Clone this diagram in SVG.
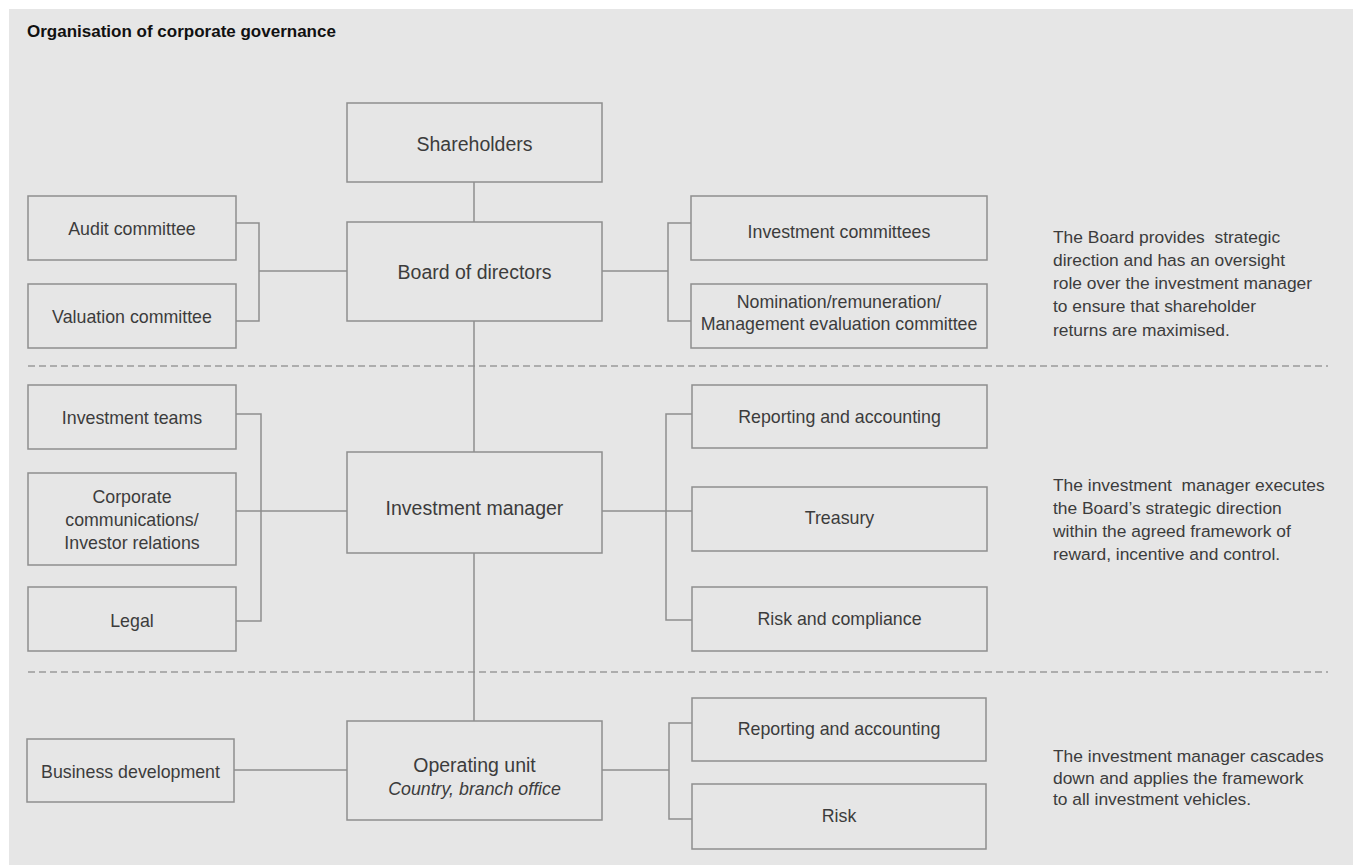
<svg xmlns="http://www.w3.org/2000/svg" width="1353" height="865" viewBox="0 0 1353 865">
<style>
.bg{fill:#e6e6e6}
.box{fill:#e6e6e6;stroke:#8e8e8e;stroke-width:1.5}
.ln{fill:none;stroke:#8e8e8e;stroke-width:1.5}
.dash{fill:none;stroke:#9a9a9a;stroke-width:1.5;stroke-dasharray:7 4}
text{font-family:"Liberation Sans",Arial,sans-serif;fill:#3c3c3c}
.t{font-size:17.8px;text-anchor:middle}
.m{font-size:19.5px;text-anchor:middle}
.p{font-size:17.4px;white-space:pre}
.title{font-size:17px;font-weight:bold;fill:#111}
</style>
<rect class="bg" x="9" y="9" width="1344" height="856"/>
<text class="title" x="27" y="37">Organisation of corporate governance</text>

<line class="dash" x1="28" y1="366" x2="1328" y2="366"/>
<line class="dash" x1="28" y1="672" x2="1328" y2="672"/>

<g id="connectors">
<path class="ln" d="M474,182V222"/>
<path class="ln" d="M474,321V452"/>
<path class="ln" d="M474,553V721"/>
<path class="ln" d="M236,223H259V321H236M259,271H347"/>
<path class="ln" d="M602,271H668M691,223H668V321H691"/>
<path class="ln" d="M236,414H261V621H236M236,511H347"/>
<path class="ln" d="M602,511H692M692,414H666V620H692"/>
<path class="ln" d="M234,770H347"/>
<path class="ln" d="M602,770H669M692,723H669V819H692"/>
</g>

<g id="shareholders"><rect class="box" x="347" y="103" width="255" height="79"/><text class="m" x="474.5" y="151">Shareholders</text></g>
<g id="board"><rect class="box" x="347" y="222" width="255" height="99"/><text class="m" x="474.5" y="279">Board of directors</text></g>
<g id="audit"><rect class="box" x="28" y="196" width="208" height="64"/><text class="t" x="132" y="235">Audit committee</text></g>
<g id="valuation"><rect class="box" x="28" y="284" width="208" height="64"/><text class="t" x="132" y="323">Valuation committee</text></g>
<g id="invcommittees"><rect class="box" x="691" y="196" width="296" height="64"/><text class="t" x="839" y="238">Investment committees</text></g>
<g id="nomination"><rect class="box" x="691" y="284" width="296" height="64"/><text class="t" x="839" y="308">Nomination/remuneration/</text><text class="t" x="839" y="330">Management evaluation committee</text></g>

<g id="invteams"><rect class="box" x="28" y="385" width="208" height="64"/><text class="t" x="132" y="424">Investment teams</text></g>
<g id="corpcomm"><rect class="box" x="28" y="473" width="208" height="92"/><text class="t" x="132" y="503">Corporate</text><text class="t" x="132" y="526">communications/</text><text class="t" x="132" y="549">Investor relations</text></g>
<g id="legal"><rect class="box" x="28" y="587" width="208" height="64"/><text class="t" x="132" y="627">Legal</text></g>
<g id="invmanager"><rect class="box" x="347" y="452" width="255" height="101"/><text class="m" x="474.5" y="515">Investment manager</text></g>
<g id="reporting1"><rect class="box" x="692" y="385" width="295" height="63"/><text class="t" x="839.5" y="423">Reporting and accounting</text></g>
<g id="treasury"><rect class="box" x="692" y="487" width="295" height="64"/><text class="t" x="839.5" y="524">Treasury</text></g>
<g id="riskcompliance"><rect class="box" x="692" y="587" width="295" height="64"/><text class="t" x="839.5" y="625">Risk and compliance</text></g>

<g id="busdev"><rect class="box" x="27" y="739" width="207" height="63"/><text class="t" x="130.5" y="778">Business development</text></g>
<g id="opunit"><rect class="box" x="347" y="721" width="255" height="99"/><text class="m" x="474.5" y="772">Operating unit</text><text class="t" x="474.5" y="795" font-style="italic">Country, branch office</text></g>
<g id="reporting2"><rect class="box" x="692" y="698" width="294" height="63"/><text class="t" x="839" y="735">Reporting and accounting</text></g>
<g id="risk"><rect class="box" x="692" y="784" width="294" height="65"/><text class="t" x="839" y="822">Risk</text></g>

<g id="note-board">
<text class="p" x="1053" y="242.5">The Board provides  strategic</text>
<text class="p" x="1053" y="265.8">direction and has an oversight</text>
<text class="p" x="1053" y="289.1">role over the investment manager</text>
<text class="p" x="1053" y="312.4">to ensure that shareholder</text>
<text class="p" x="1053" y="335.7">returns are maximised.</text>
</g>
<g id="note-manager">
<text class="p" x="1053" y="490.5">The investment  manager executes</text>
<text class="p" x="1053" y="513.8">the Board’s strategic direction</text>
<text class="p" x="1053" y="537.1">within the agreed framework of</text>
<text class="p" x="1053" y="560.4">reward, incentive and control.</text>
</g>
<g id="note-operating">
<text class="p" x="1053" y="762">The investment manager cascades</text>
<text class="p" x="1053" y="783.5">down and applies the framework</text>
<text class="p" x="1053" y="805">to all investment vehicles.</text>
</g>
</svg>
